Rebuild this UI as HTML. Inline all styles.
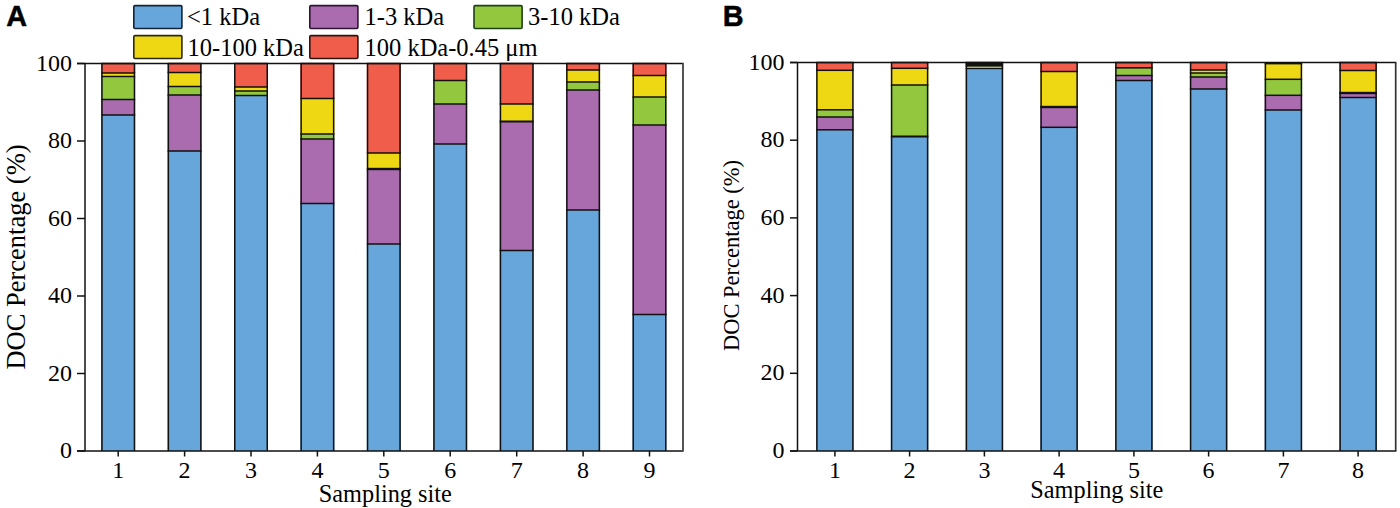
<!DOCTYPE html><html><head><meta charset="utf-8"><style>html,body{margin:0;padding:0;background:#fff;}svg{display:block;}.t{font-family:"Liberation Serif",serif;fill:#000;}.h{font-family:"Liberation Sans",sans-serif;font-weight:bold;fill:#000;}</style></head><body>
<svg width="1400" height="508" viewBox="0 0 1400 508">
<text class="h" x="0" y="0" font-size="30.4" text-anchor="start" transform="translate(6.2,26.2) scale(0.95,1)" stroke="#000" stroke-width="0.5">A</text>
<text class="h" x="0" y="0" font-size="30.4" text-anchor="start" transform="translate(722.8,26.2) scale(0.95,1)" stroke="#000" stroke-width="0.5">B</text>
<rect x="133.8" y="5.6" width="48.1" height="22.9" rx="1.2" fill="#66a6da" stroke="#13243a" stroke-width="1.6"/>
<text class="t" x="187" y="25" font-size="24.5" text-anchor="start" >&lt;1 kDa</text>
<rect x="309.8" y="5.6" width="48.1" height="22.9" rx="1.2" fill="#aa6caf" stroke="#2e1433" stroke-width="1.6"/>
<text class="t" x="364.5" y="25" font-size="24.5" text-anchor="start" >1-3 kDa</text>
<rect x="474.0" y="5.6" width="48.1" height="22.9" rx="1.2" fill="#93c83e" stroke="#1d4017" stroke-width="1.6"/>
<text class="t" x="528" y="25" font-size="24.5" text-anchor="start" >3-10 kDa</text>
<rect x="133.8" y="35.599999999999994" width="48.1" height="22.9" rx="1.2" fill="#eed814" stroke="#2b2a10" stroke-width="1.6"/>
<text class="t" x="187.5" y="56" font-size="24.5" text-anchor="start" >10-100 kDa</text>
<rect x="309.8" y="35.599999999999994" width="48.1" height="22.9" rx="1.2" fill="#f05d4b" stroke="#2e1510" stroke-width="1.6"/>
<text class="t" x="364.5" y="56" font-size="24.5" text-anchor="start" >100 kDa-0.45 μm</text>
<rect x="101.20" y="63.50" width="34.00" height="9.50" fill="#f05d4b"/>
<rect x="101.20" y="73.00" width="34.00" height="3.50" fill="#eed814"/>
<rect x="101.20" y="76.50" width="34.00" height="23.00" fill="#93c83e"/>
<rect x="101.20" y="99.50" width="34.00" height="15.50" fill="#aa6caf"/>
<rect x="101.20" y="115.00" width="34.00" height="336.00" fill="#66a6da"/>
<rect x="101.20" y="63.50" width="1.50" height="387.50" fill="#111"/>
<rect x="133.70" y="63.50" width="1.50" height="387.50" fill="#111"/>
<rect x="101.20" y="62.75" width="34.00" height="1.50" fill="#111"/>
<rect x="101.20" y="72.25" width="34.00" height="1.50" fill="#111"/>
<rect x="101.20" y="75.75" width="34.00" height="1.50" fill="#111"/>
<rect x="101.20" y="98.75" width="34.00" height="1.50" fill="#111"/>
<rect x="101.20" y="114.25" width="34.00" height="1.50" fill="#111"/>
<rect x="167.60" y="63.50" width="34.00" height="9.00" fill="#f05d4b"/>
<rect x="167.60" y="72.50" width="34.00" height="14.00" fill="#eed814"/>
<rect x="167.60" y="86.50" width="34.00" height="8.50" fill="#93c83e"/>
<rect x="167.60" y="95.00" width="34.00" height="56.00" fill="#aa6caf"/>
<rect x="167.60" y="151.00" width="34.00" height="300.00" fill="#66a6da"/>
<rect x="167.60" y="63.50" width="1.50" height="387.50" fill="#111"/>
<rect x="200.10" y="63.50" width="1.50" height="387.50" fill="#111"/>
<rect x="167.60" y="62.75" width="34.00" height="1.50" fill="#111"/>
<rect x="167.60" y="71.75" width="34.00" height="1.50" fill="#111"/>
<rect x="167.60" y="85.75" width="34.00" height="1.50" fill="#111"/>
<rect x="167.60" y="94.25" width="34.00" height="1.50" fill="#111"/>
<rect x="167.60" y="150.25" width="34.00" height="1.50" fill="#111"/>
<rect x="234.00" y="63.50" width="34.00" height="23.50" fill="#f05d4b"/>
<rect x="234.00" y="87.00" width="34.00" height="4.00" fill="#eed814"/>
<rect x="234.00" y="91.00" width="34.00" height="4.50" fill="#93c83e"/>
<rect x="234.00" y="95.50" width="34.00" height="355.50" fill="#66a6da"/>
<rect x="234.00" y="63.50" width="1.50" height="387.50" fill="#111"/>
<rect x="266.50" y="63.50" width="1.50" height="387.50" fill="#111"/>
<rect x="234.00" y="62.75" width="34.00" height="1.50" fill="#111"/>
<rect x="234.00" y="86.25" width="34.00" height="1.50" fill="#111"/>
<rect x="234.00" y="90.25" width="34.00" height="1.50" fill="#111"/>
<rect x="234.00" y="94.75" width="34.00" height="1.50" fill="#111"/>
<rect x="300.40" y="63.50" width="34.00" height="35.00" fill="#f05d4b"/>
<rect x="300.40" y="98.50" width="34.00" height="35.50" fill="#eed814"/>
<rect x="300.40" y="134.00" width="34.00" height="5.00" fill="#93c83e"/>
<rect x="300.40" y="139.00" width="34.00" height="64.50" fill="#aa6caf"/>
<rect x="300.40" y="203.50" width="34.00" height="247.50" fill="#66a6da"/>
<rect x="300.40" y="63.50" width="1.50" height="387.50" fill="#111"/>
<rect x="332.90" y="63.50" width="1.50" height="387.50" fill="#111"/>
<rect x="300.40" y="62.75" width="34.00" height="1.50" fill="#111"/>
<rect x="300.40" y="97.75" width="34.00" height="1.50" fill="#111"/>
<rect x="300.40" y="133.25" width="34.00" height="1.50" fill="#111"/>
<rect x="300.40" y="138.25" width="34.00" height="1.50" fill="#111"/>
<rect x="300.40" y="202.75" width="34.00" height="1.50" fill="#111"/>
<rect x="366.80" y="63.50" width="34.00" height="89.50" fill="#f05d4b"/>
<rect x="366.80" y="153.00" width="34.00" height="16.00" fill="#eed814"/>
<rect x="366.80" y="169.00" width="34.00" height="75.00" fill="#aa6caf"/>
<rect x="366.80" y="244.00" width="34.00" height="207.00" fill="#66a6da"/>
<rect x="366.80" y="63.50" width="1.50" height="387.50" fill="#111"/>
<rect x="399.30" y="63.50" width="1.50" height="387.50" fill="#111"/>
<rect x="366.80" y="62.75" width="34.00" height="1.50" fill="#111"/>
<rect x="366.80" y="152.25" width="34.00" height="1.50" fill="#111"/>
<rect x="366.80" y="167.80" width="34.00" height="2.40" fill="#111"/>
<rect x="366.80" y="243.25" width="34.00" height="1.50" fill="#111"/>
<rect x="433.20" y="63.50" width="34.00" height="17.00" fill="#f05d4b"/>
<rect x="433.20" y="80.50" width="34.00" height="23.50" fill="#93c83e"/>
<rect x="433.20" y="104.00" width="34.00" height="40.00" fill="#aa6caf"/>
<rect x="433.20" y="144.00" width="34.00" height="307.00" fill="#66a6da"/>
<rect x="433.20" y="63.50" width="1.50" height="387.50" fill="#111"/>
<rect x="465.70" y="63.50" width="1.50" height="387.50" fill="#111"/>
<rect x="433.20" y="62.75" width="34.00" height="1.50" fill="#111"/>
<rect x="433.20" y="79.75" width="34.00" height="1.50" fill="#111"/>
<rect x="433.20" y="103.25" width="34.00" height="1.50" fill="#111"/>
<rect x="433.20" y="143.25" width="34.00" height="1.50" fill="#111"/>
<rect x="499.70" y="63.50" width="34.00" height="40.50" fill="#f05d4b"/>
<rect x="499.70" y="104.00" width="34.00" height="17.50" fill="#eed814"/>
<rect x="499.70" y="121.50" width="34.00" height="129.00" fill="#aa6caf"/>
<rect x="499.70" y="250.50" width="34.00" height="200.50" fill="#66a6da"/>
<rect x="499.70" y="63.50" width="1.50" height="387.50" fill="#111"/>
<rect x="532.20" y="63.50" width="1.50" height="387.50" fill="#111"/>
<rect x="499.70" y="62.75" width="34.00" height="1.50" fill="#111"/>
<rect x="499.70" y="103.25" width="34.00" height="1.50" fill="#111"/>
<rect x="499.70" y="120.50" width="34.00" height="2.00" fill="#111"/>
<rect x="499.70" y="249.75" width="34.00" height="1.50" fill="#111"/>
<rect x="566.10" y="63.50" width="34.00" height="6.50" fill="#f05d4b"/>
<rect x="566.10" y="70.00" width="34.00" height="12.00" fill="#eed814"/>
<rect x="566.10" y="82.00" width="34.00" height="8.00" fill="#93c83e"/>
<rect x="566.10" y="90.00" width="34.00" height="120.00" fill="#aa6caf"/>
<rect x="566.10" y="210.00" width="34.00" height="241.00" fill="#66a6da"/>
<rect x="566.10" y="63.50" width="1.50" height="387.50" fill="#111"/>
<rect x="598.60" y="63.50" width="1.50" height="387.50" fill="#111"/>
<rect x="566.10" y="62.75" width="34.00" height="1.50" fill="#111"/>
<rect x="566.10" y="69.25" width="34.00" height="1.50" fill="#111"/>
<rect x="566.10" y="81.25" width="34.00" height="1.50" fill="#111"/>
<rect x="566.10" y="89.25" width="34.00" height="1.50" fill="#111"/>
<rect x="566.10" y="209.25" width="34.00" height="1.50" fill="#111"/>
<rect x="632.50" y="63.50" width="34.00" height="12.00" fill="#f05d4b"/>
<rect x="632.50" y="75.50" width="34.00" height="21.50" fill="#eed814"/>
<rect x="632.50" y="97.00" width="34.00" height="28.00" fill="#93c83e"/>
<rect x="632.50" y="125.00" width="34.00" height="189.50" fill="#aa6caf"/>
<rect x="632.50" y="314.50" width="34.00" height="136.50" fill="#66a6da"/>
<rect x="632.50" y="63.50" width="1.50" height="387.50" fill="#111"/>
<rect x="665.00" y="63.50" width="1.50" height="387.50" fill="#111"/>
<rect x="632.50" y="62.75" width="34.00" height="1.50" fill="#111"/>
<rect x="632.50" y="74.75" width="34.00" height="1.50" fill="#111"/>
<rect x="632.50" y="96.25" width="34.00" height="1.50" fill="#111"/>
<rect x="632.50" y="124.25" width="34.00" height="1.50" fill="#111"/>
<rect x="632.50" y="313.75" width="34.00" height="1.50" fill="#111"/>
<line x1="77" y1="63.5" x2="683.65" y2="63.5" stroke="#111" stroke-width="1.5"/>
<line x1="77" y1="451" x2="683.65" y2="451" stroke="#111" stroke-width="1.5"/>
<line x1="85" y1="63.5" x2="85" y2="451" stroke="#111" stroke-width="1.5"/>
<line x1="683" y1="63.5" x2="683" y2="451" stroke="#555" stroke-width="2"/>
<line x1="77" y1="451.0" x2="85" y2="451.0" stroke="#111" stroke-width="1.5"/>
<text class="t" x="72" y="458.2" font-size="24" text-anchor="end" >0</text>
<line x1="77" y1="373.5" x2="85" y2="373.5" stroke="#111" stroke-width="1.5"/>
<text class="t" x="72" y="380.7" font-size="24" text-anchor="end" >20</text>
<line x1="77" y1="296.0" x2="85" y2="296.0" stroke="#111" stroke-width="1.5"/>
<text class="t" x="72" y="303.2" font-size="24" text-anchor="end" >40</text>
<line x1="77" y1="218.5" x2="85" y2="218.5" stroke="#111" stroke-width="1.5"/>
<text class="t" x="72" y="225.7" font-size="24" text-anchor="end" >60</text>
<line x1="77" y1="141.0" x2="85" y2="141.0" stroke="#111" stroke-width="1.5"/>
<text class="t" x="72" y="148.2" font-size="24" text-anchor="end" >80</text>
<line x1="77" y1="63.5" x2="85" y2="63.5" stroke="#111" stroke-width="1.5"/>
<text class="t" x="72" y="70.7" font-size="24" text-anchor="end" >100</text>
<line x1="118.2" y1="451" x2="118.2" y2="456.5" stroke="#111" stroke-width="1.5"/>
<text class="t" x="118.2" y="477.8" font-size="24" text-anchor="middle" >1</text>
<line x1="184.6" y1="451" x2="184.6" y2="456.5" stroke="#111" stroke-width="1.5"/>
<text class="t" x="184.6" y="477.8" font-size="24" text-anchor="middle" >2</text>
<line x1="251.0" y1="451" x2="251.0" y2="456.5" stroke="#111" stroke-width="1.5"/>
<text class="t" x="251.0" y="477.8" font-size="24" text-anchor="middle" >3</text>
<line x1="317.4" y1="451" x2="317.4" y2="456.5" stroke="#111" stroke-width="1.5"/>
<text class="t" x="317.4" y="477.8" font-size="24" text-anchor="middle" >4</text>
<line x1="383.8" y1="451" x2="383.8" y2="456.5" stroke="#111" stroke-width="1.5"/>
<text class="t" x="383.8" y="477.8" font-size="24" text-anchor="middle" >5</text>
<line x1="450.2" y1="451" x2="450.2" y2="456.5" stroke="#111" stroke-width="1.5"/>
<text class="t" x="450.2" y="477.8" font-size="24" text-anchor="middle" >6</text>
<line x1="516.7" y1="451" x2="516.7" y2="456.5" stroke="#111" stroke-width="1.5"/>
<text class="t" x="516.7" y="477.8" font-size="24" text-anchor="middle" >7</text>
<line x1="583.1" y1="451" x2="583.1" y2="456.5" stroke="#111" stroke-width="1.5"/>
<text class="t" x="583.1" y="477.8" font-size="24" text-anchor="middle" >8</text>
<line x1="649.5" y1="451" x2="649.5" y2="456.5" stroke="#111" stroke-width="1.5"/>
<text class="t" x="649.5" y="477.8" font-size="24" text-anchor="middle" >9</text>
<text class="t" x="385.3" y="502" font-size="24.3" text-anchor="middle" >Sampling site</text>
<text class="t" x="0" y="0" font-size="26.5" text-anchor="middle" transform="translate(25.2,257) rotate(-90)">DOC Percentage (%)</text>
<rect x="816.15" y="62.50" width="37.50" height="7.80" fill="#f05d4b"/>
<rect x="816.15" y="70.30" width="37.50" height="39.50" fill="#eed814"/>
<rect x="816.15" y="109.80" width="37.50" height="7.20" fill="#93c83e"/>
<rect x="816.15" y="117.00" width="37.50" height="12.80" fill="#aa6caf"/>
<rect x="816.15" y="129.80" width="37.50" height="321.20" fill="#66a6da"/>
<rect x="816.15" y="62.50" width="1.50" height="388.50" fill="#111"/>
<rect x="852.15" y="62.50" width="1.50" height="388.50" fill="#111"/>
<rect x="816.15" y="61.75" width="37.50" height="1.50" fill="#111"/>
<rect x="816.15" y="69.55" width="37.50" height="1.50" fill="#111"/>
<rect x="816.15" y="109.05" width="37.50" height="1.50" fill="#111"/>
<rect x="816.15" y="116.25" width="37.50" height="1.50" fill="#111"/>
<rect x="816.15" y="129.05" width="37.50" height="1.50" fill="#111"/>
<rect x="890.85" y="62.50" width="37.50" height="5.80" fill="#f05d4b"/>
<rect x="890.85" y="68.30" width="37.50" height="16.70" fill="#eed814"/>
<rect x="890.85" y="85.00" width="37.50" height="51.50" fill="#93c83e"/>
<rect x="890.85" y="136.50" width="37.50" height="314.50" fill="#66a6da"/>
<rect x="890.85" y="62.50" width="1.50" height="388.50" fill="#111"/>
<rect x="926.85" y="62.50" width="1.50" height="388.50" fill="#111"/>
<rect x="890.85" y="61.75" width="37.50" height="1.50" fill="#111"/>
<rect x="890.85" y="67.55" width="37.50" height="1.50" fill="#111"/>
<rect x="890.85" y="84.25" width="37.50" height="1.50" fill="#111"/>
<rect x="890.85" y="135.50" width="37.50" height="2.00" fill="#111"/>
<rect x="965.65" y="62.50" width="37.50" height="4.10" fill="#111"/>
<rect x="965.65" y="66.60" width="37.50" height="2.00" fill="#93c83e"/>
<rect x="965.65" y="68.60" width="37.50" height="382.40" fill="#66a6da"/>
<rect x="965.65" y="62.50" width="1.50" height="388.50" fill="#111"/>
<rect x="1001.65" y="62.50" width="1.50" height="388.50" fill="#111"/>
<rect x="965.65" y="61.75" width="37.50" height="1.50" fill="#111"/>
<rect x="965.65" y="66.40" width="37.50" height="0.40" fill="#111"/>
<rect x="965.65" y="68.00" width="37.50" height="1.20" fill="#111"/>
<rect x="1040.35" y="62.50" width="37.50" height="9.00" fill="#f05d4b"/>
<rect x="1040.35" y="71.50" width="37.50" height="35.50" fill="#eed814"/>
<rect x="1040.35" y="107.00" width="37.50" height="20.30" fill="#aa6caf"/>
<rect x="1040.35" y="127.30" width="37.50" height="323.70" fill="#66a6da"/>
<rect x="1040.35" y="62.50" width="1.50" height="388.50" fill="#111"/>
<rect x="1076.35" y="62.50" width="1.50" height="388.50" fill="#111"/>
<rect x="1040.35" y="61.75" width="37.50" height="1.50" fill="#111"/>
<rect x="1040.35" y="70.75" width="37.50" height="1.50" fill="#111"/>
<rect x="1040.35" y="105.80" width="37.50" height="2.40" fill="#111"/>
<rect x="1040.35" y="126.55" width="37.50" height="1.50" fill="#111"/>
<rect x="1115.15" y="62.50" width="37.50" height="5.30" fill="#f05d4b"/>
<rect x="1115.15" y="67.80" width="37.50" height="7.70" fill="#93c83e"/>
<rect x="1115.15" y="75.50" width="37.50" height="5.00" fill="#aa6caf"/>
<rect x="1115.15" y="80.50" width="37.50" height="370.50" fill="#66a6da"/>
<rect x="1115.15" y="62.50" width="1.50" height="388.50" fill="#111"/>
<rect x="1151.15" y="62.50" width="1.50" height="388.50" fill="#111"/>
<rect x="1115.15" y="61.75" width="37.50" height="1.50" fill="#111"/>
<rect x="1115.15" y="67.00" width="37.50" height="1.60" fill="#111"/>
<rect x="1115.15" y="74.75" width="37.50" height="1.50" fill="#111"/>
<rect x="1115.15" y="79.75" width="37.50" height="1.50" fill="#111"/>
<rect x="1189.85" y="62.50" width="37.50" height="7.50" fill="#f05d4b"/>
<rect x="1189.85" y="70.00" width="37.50" height="3.00" fill="#eed814"/>
<rect x="1189.85" y="73.00" width="37.50" height="4.00" fill="#93c83e"/>
<rect x="1189.85" y="77.00" width="37.50" height="12.00" fill="#aa6caf"/>
<rect x="1189.85" y="89.00" width="37.50" height="362.00" fill="#66a6da"/>
<rect x="1189.85" y="62.50" width="1.50" height="388.50" fill="#111"/>
<rect x="1225.85" y="62.50" width="1.50" height="388.50" fill="#111"/>
<rect x="1189.85" y="61.75" width="37.50" height="1.50" fill="#111"/>
<rect x="1189.85" y="69.25" width="37.50" height="1.50" fill="#111"/>
<rect x="1189.85" y="72.25" width="37.50" height="1.50" fill="#111"/>
<rect x="1189.85" y="76.25" width="37.50" height="1.50" fill="#111"/>
<rect x="1189.85" y="88.25" width="37.50" height="1.50" fill="#111"/>
<rect x="1264.65" y="63.20" width="37.50" height="16.10" fill="#eed814"/>
<rect x="1264.65" y="79.30" width="37.50" height="16.00" fill="#93c83e"/>
<rect x="1264.65" y="95.30" width="37.50" height="14.70" fill="#aa6caf"/>
<rect x="1264.65" y="110.00" width="37.50" height="341.00" fill="#66a6da"/>
<rect x="1264.65" y="63.20" width="1.50" height="387.80" fill="#111"/>
<rect x="1300.65" y="63.20" width="1.50" height="387.80" fill="#111"/>
<rect x="1264.65" y="62.00" width="37.50" height="2.40" fill="#111"/>
<rect x="1264.65" y="78.55" width="37.50" height="1.50" fill="#111"/>
<rect x="1264.65" y="94.55" width="37.50" height="1.50" fill="#111"/>
<rect x="1264.65" y="109.25" width="37.50" height="1.50" fill="#111"/>
<rect x="1339.35" y="62.50" width="37.50" height="8.00" fill="#f05d4b"/>
<rect x="1339.35" y="70.50" width="37.50" height="22.50" fill="#eed814"/>
<rect x="1339.35" y="93.00" width="37.50" height="4.50" fill="#aa6caf"/>
<rect x="1339.35" y="97.50" width="37.50" height="353.50" fill="#66a6da"/>
<rect x="1339.35" y="62.50" width="1.50" height="388.50" fill="#111"/>
<rect x="1375.35" y="62.50" width="1.50" height="388.50" fill="#111"/>
<rect x="1339.35" y="61.75" width="37.50" height="1.50" fill="#111"/>
<rect x="1339.35" y="69.75" width="37.50" height="1.50" fill="#111"/>
<rect x="1339.35" y="91.80" width="37.50" height="2.40" fill="#111"/>
<rect x="1339.35" y="96.75" width="37.50" height="1.50" fill="#111"/>
<line x1="790" y1="62.5" x2="1396.3500000000001" y2="62.5" stroke="#111" stroke-width="1.5"/>
<line x1="790" y1="451" x2="1396.3500000000001" y2="451" stroke="#111" stroke-width="1.5"/>
<line x1="797.5" y1="62.5" x2="797.5" y2="451" stroke="#111" stroke-width="1.5"/>
<line x1="1395.7" y1="62.5" x2="1395.7" y2="451" stroke="#333" stroke-width="1.7"/>
<line x1="790" y1="451.0" x2="797.5" y2="451.0" stroke="#111" stroke-width="1.5"/>
<text class="t" x="784.5" y="458.0" font-size="24" text-anchor="end" >0</text>
<line x1="790" y1="373.3" x2="797.5" y2="373.3" stroke="#111" stroke-width="1.5"/>
<text class="t" x="784.5" y="380.3" font-size="24" text-anchor="end" >20</text>
<line x1="790" y1="295.6" x2="797.5" y2="295.6" stroke="#111" stroke-width="1.5"/>
<text class="t" x="784.5" y="302.6" font-size="24" text-anchor="end" >40</text>
<line x1="790" y1="217.9" x2="797.5" y2="217.9" stroke="#111" stroke-width="1.5"/>
<text class="t" x="784.5" y="224.9" font-size="24" text-anchor="end" >60</text>
<line x1="790" y1="140.2" x2="797.5" y2="140.2" stroke="#111" stroke-width="1.5"/>
<text class="t" x="784.5" y="147.2" font-size="24" text-anchor="end" >80</text>
<line x1="790" y1="62.5" x2="797.5" y2="62.5" stroke="#111" stroke-width="1.5"/>
<text class="t" x="784.5" y="69.5" font-size="24" text-anchor="end" >100</text>
<line x1="834.9" y1="451" x2="834.9" y2="456.5" stroke="#111" stroke-width="1.5"/>
<text class="t" x="834.9" y="478" font-size="24" text-anchor="middle" >1</text>
<line x1="909.6" y1="451" x2="909.6" y2="456.5" stroke="#111" stroke-width="1.5"/>
<text class="t" x="909.6" y="478" font-size="24" text-anchor="middle" >2</text>
<line x1="984.4" y1="451" x2="984.4" y2="456.5" stroke="#111" stroke-width="1.5"/>
<text class="t" x="984.4" y="478" font-size="24" text-anchor="middle" >3</text>
<line x1="1059.1" y1="451" x2="1059.1" y2="456.5" stroke="#111" stroke-width="1.5"/>
<text class="t" x="1059.1" y="478" font-size="24" text-anchor="middle" >4</text>
<line x1="1133.9" y1="451" x2="1133.9" y2="456.5" stroke="#111" stroke-width="1.5"/>
<text class="t" x="1133.9" y="478" font-size="24" text-anchor="middle" >5</text>
<line x1="1208.6" y1="451" x2="1208.6" y2="456.5" stroke="#111" stroke-width="1.5"/>
<text class="t" x="1208.6" y="478" font-size="24" text-anchor="middle" >6</text>
<line x1="1283.4" y1="451" x2="1283.4" y2="456.5" stroke="#111" stroke-width="1.5"/>
<text class="t" x="1283.4" y="478" font-size="24" text-anchor="middle" >7</text>
<line x1="1358.1" y1="451" x2="1358.1" y2="456.5" stroke="#111" stroke-width="1.5"/>
<text class="t" x="1358.1" y="478" font-size="24" text-anchor="middle" >8</text>
<text class="t" x="1096.8" y="498" font-size="24.3" text-anchor="middle" >Sampling site</text>
<text class="t" x="0" y="0" font-size="22.5" text-anchor="middle" transform="translate(738.7,255.5) rotate(-90)">DOC Percentage (%)</text>
</svg></body></html>
